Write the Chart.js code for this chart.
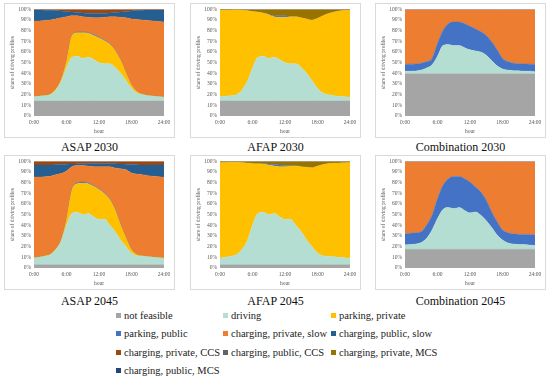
<!DOCTYPE html>
<html>
<head>
<meta charset="utf-8">
<script src="https://cdn.jsdelivr.net/npm/chart.js@4"></script>
<style>
  body { margin: 0; width: 550px; height: 380px; background: #fff; position: relative; overflow: hidden; font-family: "Liberation Serif", "DejaVu Serif", serif; }
  .panel { position: absolute; width: 171px; height: 135px; border: 1px solid #d9d9d9; box-sizing: border-box; }
  .panel canvas { position: absolute; left: -1px; top: -1px; }
  .title { position: absolute; width: 171px; text-align: center; font-size: 12px; line-height: 14px; color: #111; }
  .leg { position: absolute; font-size: 10.5px; line-height: 12px; color: #222; white-space: nowrap; }
  .leg i { display: inline-block; width: 5px; height: 5px; margin-right: 3px; vertical-align: 1px; }
</style>
</head>
<body>
<div class="panel" style="left:4px;top:3px"><canvas id="asap2030" width="171" height="135"></canvas></div>
<div class="panel" style="left:190px;top:3px"><canvas id="afap2030" width="171" height="135"></canvas></div>
<div class="panel" style="left:375px;top:3px"><canvas id="comb2030" width="171" height="135"></canvas></div>
<div class="panel" style="left:4px;top:155px"><canvas id="asap2045" width="171" height="135"></canvas></div>
<div class="panel" style="left:190px;top:155px"><canvas id="afap2045" width="171" height="135"></canvas></div>
<div class="panel" style="left:375px;top:155px"><canvas id="comb2045" width="171" height="135"></canvas></div>

<div class="title" style="left:4px;top:140px">ASAP 2030</div>
<div class="title" style="left:190px;top:140px">AFAP 2030</div>
<div class="title" style="left:375px;top:140px">Combination 2030</div>
<div class="title" style="left:4px;top:294px">ASAP 2045</div>
<div class="title" style="left:190px;top:294px">AFAP 2045</div>
<div class="title" style="left:375px;top:294px">Combination 2045</div>

<div id="legend"></div>

<script>
// hours of the day
const hours = [0,1,2,3,4,5,6,7,8,9,10,11,12,13,14,15,16,17,18,19,20,21,22,23,24];
const xTickLabels = ["0:00", "6:00", "12:00", "18:00", "24:00"];

const stateLabels = ["not feasible", "driving", "parking, private", "parking, public",
  "charging, private, slow", "charging, public, slow", "charging, private, CCS",
  "charging, public, CCS", "charging, private, MCS", "charging, public, MCS"];
const stateColors = ["#A5A5A5", "#B4DED2", "#FFC000", "#4472C4", "#ED7D31",
  "#255E91", "#9E480E", "#636363", "#997300", "#264478"];

// ASAP 2030
const asap2030NotFeasible = [14,14,14,14,14,14,14,14,14,14,14,14,14,14,14,14,14,14,14,14,14,14,14,14,14];
const driving2030 = [4,4.5,5,6,10,18,31,41,42,40,41,39,36,35,35,31.5,26,19,12,7.5,6,5,4.5,4,3.5];
const asap2030ParkPriv = [0.3,0.3,0.3,0.5,1,2,6,20,22,24,22.5,22.5,23,21.5,18,15.5,12,7,3,1.5,0.5,0.3,0.3,0.3,0.3];
const asap2030ParkPub = [0,0,0,0,0,0,0,0.3,0.7,0.8,0.8,0.8,0.7,0.7,0.5,0.3,0.2,0,0,0,0,0,0,0,0];
const asap2030PrivSlow = [70.7,70.2,70.2,69.5,66,58,42,18.7,15.3,14.2,14.2,15.7,18.3,21.3,25.5,31.7,40.3,52,62,67.5,69.5,70.2,70.2,70.2,70.2];
const asap2030PubSlow = [10.3,10.3,9.7,9,7.8,6.5,5,3.5,3,3.5,3.5,4,4,3.5,3.5,4,5,6,7.5,8.5,9.2,9.8,10.3,10.8,11.3];
const asap2030PrivCCS = [0.7,0.7,0.8,1,1.2,1.5,2,2.5,3,3.2,3.5,3.4,3.4,3.4,3.1,2.8,2.3,2,1.5,1,0.8,0.7,0.7,0.7,0.7];
const asap2030PubCCS = [0,0,0,0,0,0,0,0,0,0.3,0.5,0.6,0.6,0.6,0.4,0.2,0.2,0,0,0,0,0,0,0,0];

// AFAP 2030
const afap2030ParkPriv = [81,80.7,80.3,79.5,75.3,66.8,53,42.5,40.5,41,38,39.5,42.5,44,44,46.5,51,57,65.5,72.5,76,78.5,80,81,81.5];
const afap2030ParkPub = [0,0,0,0,0,0,0,0,0,0.3,0.8,1.5,1.5,0.5,0.2,0,0,0,0,0,0,0,0,0,0];
const afap2030PrivMCS = [0.7,0.5,0.4,0.2,0.4,0.9,1.7,2.2,3.2,4.4,5.9,5.7,5.7,6.2,6.5,7.7,8.7,9.7,8.2,5.7,3.7,2.2,1.2,0.7,0.7];
const afap2030PubMCS = [0.3,0.3,0.3,0.3,0.3,0.3,0.3,0.3,0.3,0.3,0.3,0.3,0.3,0.3,0.3,0.3,0.3,0.3,0.3,0.3,0.3,0.3,0.3,0.3,0.3];

// Combination 2030
const comb2030NotFeasible = [39.5,39.5,39.5,39.5,39.5,39.5,39.5,39.5,39.5,39.5,39.5,39.5,39.5,39.5,39.5,39.5,39.5,39.5,39.5,39.5,39.5,39.5,39.5,39.5,39.5];
const comb2030Driving = [2.5,2.5,2.7,3.5,5.5,8.5,16.5,26.5,27.5,26.5,26.5,24.5,22.5,21.5,20.5,17.5,12.5,7.5,4.5,3.5,3,2.8,2.5,2.5,2];
const comb2030ParkPub = [6.6,6.6,6.6,6.5,6,6,12,14,19.5,22,22,22.5,22,20.5,19,18.5,17.5,15,10,8,7,6.7,6.8,6.6,7];
const comb2030PrivSlow = [50.9,50.9,50.7,50,48.5,45.5,31.5,19.5,13,11.5,11.5,13,15.5,18,20.5,24,30,37.5,45.5,48.5,50,50.5,50.7,50.9,51];
const comb2030PubSlow = [0.5,0.5,0.5,0.5,0.5,0.5,0.5,0.5,0.5,0.5,0.5,0.5,0.5,0.5,0.5,0.5,0.5,0.5,0.5,0.5,0.5,0.5,0.5,0.5,0.5];

// ASAP 2045
const notFeasible2045 = [3,3,3,3,3,3,3,3,3,3,3,3,3,3,3,3,3,3,3,3,3,3,3,3,3];
const driving2045 = [6.3,7,8,9.5,14,22,37,48,49.3,47,48,45,42.5,43,37,31,23.3,17,11,8.5,8,7.5,7,6.5,6];
const asap2045ParkPriv = [0.3,0.3,0.3,0.3,0.5,1,5,21.8,26.7,29.6,28,28.5,27.9,23.7,24,20,13.7,7.9,3,1,0.5,0.3,0.3,0.3,0.3];
const asap2045ParkPub = [0,0,0,0,0,0,0,0.5,1,1,1,0.8,0.7,0.6,0.5,0.3,0,0,0,0,0,0,0,0,0];
const asap2045PrivSlow = [75.5,75,74.2,73.2,70,62.5,46,21.7,16,15.4,15.5,17.7,20.9,24.7,30.5,39.5,53,64.1,72,75.5,76,75.7,75.7,75.7,75.7];
const asap2045PubSlow = [11.4,11.2,11,10.5,9.3,8.5,6.3,2.5,1.8,2,2.5,3,3,3,3,4,4.5,5.3,8,8.8,9,10,10.5,11,11.5];
const asap2045PrivCCS = [3.2,3.2,3.2,3.2,2.9,2.7,2.4,2.2,1.9,1.7,1.7,1.7,1.7,1.7,1.7,1.9,2.2,2.4,2.7,2.9,3.2,3.2,3.2,3.2,3.2];
const asap2045PubCCS = [0.3,0.3,0.3,0.3,0.3,0.3,0.3,0.3,0.3,0.3,0.3,0.3,0.3,0.3,0.3,0.3,0.3,0.3,0.3,0.3,0.3,0.3,0.3,0.3,0.3];

// AFAP 2045
const afap2045ParkPriv = [89.5,88.9,88,86.5,81.8,73.5,58,46.7,45.2,46.5,44.5,47,49.5,49.3,55.5,61,68.2,74,81.5,85.5,87,87.8,88.5,89.2,89.8];
const afap2045ParkPub = [0,0,0,0,0,0,0,0,0.3,1,1.5,1.5,1,0.5,0.3,0,0,0,0,0,0,0,0,0,0];
const afap2045PrivMCS = [0.9,0.8,0.7,0.7,0.9,1.2,1.7,2,1.9,2.2,2.7,3.2,3.7,3.9,3.9,4.7,5.2,5.7,4.2,2.7,1.7,1.4,1.2,1,0.9];
const afap2045PubMCS = [0.3,0.3,0.3,0.3,0.3,0.3,0.3,0.3,0.3,0.3,0.3,0.3,0.3,0.3,0.3,0.3,0.3,0.3,0.3,0.3,0.3,0.3,0.3,0.3,0.3];

// Combination 2045
const comb2045NotFeasible = [17.5,17.5,17.5,17.5,17.5,17.5,17.5,17.5,17.5,17.5,17.5,17.5,17.5,17.5,17.5,17.5,17.5,17.5,17.5,17.5,17.5,17.5,17.5,17.5,17.5];
const comb2045Driving = [4.2,4.5,5,6.3,10.4,18.1,28.9,37.3,39.2,38.2,39.2,36.5,34.2,35.1,32,26.8,20.5,13.5,8.8,6,5,4.5,4.5,4,3.5];
const comb2045ParkPub = [10.3,10.5,10.5,10.2,12.3,13.9,18.6,22.6,26.9,30.1,29.1,29.6,28.8,23.3,21.7,19.2,14.6,12.3,9.3,9.5,9.5,9.5,9.5,10,10];
const comb2045PrivSlow = [67.5,67,66.5,65.5,59.3,50,34.5,22.1,15.9,13.7,13.7,15.9,19,23.6,28.3,36,46.9,56.2,63.9,66.5,67.5,68,68,68,68.5];
const comb2045PubSlow = [0.5,0.5,0.5,0.5,0.5,0.5,0.5,0.5,0.5,0.5,0.5,0.5,0.5,0.5,0.5,0.5,0.5,0.5,0.5,0.5,0.5,0.5,0.5,0.5,0.5];

// panel -> list of [state index, values], bottom to top
const panels = {
  asap2030: [[0, asap2030NotFeasible], [1, driving2030], [2, asap2030ParkPriv], [3, asap2030ParkPub],
             [4, asap2030PrivSlow], [5, asap2030PubSlow], [6, asap2030PrivCCS], [7, asap2030PubCCS]],
  afap2030: [[0, asap2030NotFeasible], [1, driving2030], [2, afap2030ParkPriv], [3, afap2030ParkPub],
             [8, afap2030PrivMCS], [9, afap2030PubMCS]],
  comb2030: [[0, comb2030NotFeasible], [1, comb2030Driving], [3, comb2030ParkPub],
             [4, comb2030PrivSlow], [5, comb2030PubSlow]],
  asap2045: [[0, notFeasible2045], [1, driving2045], [2, asap2045ParkPriv], [3, asap2045ParkPub],
             [4, asap2045PrivSlow], [5, asap2045PubSlow], [6, asap2045PrivCCS], [7, asap2045PubCCS]],
  afap2045: [[0, notFeasible2045], [1, driving2045], [2, afap2045ParkPriv], [3, afap2045ParkPub],
             [8, afap2045PrivMCS], [9, afap2045PubMCS]],
  comb2045: [[0, comb2045NotFeasible], [1, comb2045Driving], [3, comb2045ParkPub],
             [4, comb2045PrivSlow], [5, comb2045PubSlow]]
};

Chart.defaults.font.family = "'Liberation Serif', 'DejaVu Serif', serif";
Chart.defaults.color = "#595959";

Object.keys(panels).forEach(function (id) {
  const datasets = panels[id].map(function (s, i) {
    return {
      label: stateLabels[s[0]],
      data: s[1],
      backgroundColor: stateColors[s[0]],
      borderColor: stateColors[s[0]],
      borderWidth: 0.4,
      pointRadius: 0,
      cubicInterpolationMode: "monotone",
      fill: i === 0 ? "origin" : "-1"
    };
  });
  new Chart(document.getElementById(id), {
    type: "line",
    data: { labels: hours, datasets: datasets },
    options: {
      responsive: false,
      animation: false,
      layout: { padding: { top: 6, right: 11, left: 0, bottom: 3 } },
      plugins: { legend: { display: false }, tooltip: { enabled: false } },
      scales: {
        x: {
          type: "linear", min: 0, max: 24,
          grid: { display: false, drawTicks: false }, border: { display: false },
          ticks: { stepSize: 6, maxRotation: 0, autoSkip: false, padding: 3, font: { size: 5.5 },
                   callback: function (v) { return xTickLabels[v / 6]; } },
          title: { display: true, text: "hour", font: { size: 5.5 }, padding: { top: 2, bottom: 0 } },
          afterFit: function (s) { s.height = 19; }
        },
        y: {
          stacked: true, min: 0, max: 100,
          grid: { display: false, drawTicks: false }, border: { display: false },
          ticks: { stepSize: 10, padding: 3, font: { size: 5.5 },
                   callback: function (v) { return v + "%"; } },
          title: { display: true, text: "share of driving profiles", font: { size: 5.5 }, padding: { top: 5, bottom: 2 } },
          afterFit: function (s) { s.width = 30; }
        }
      }
    }
  });
});

// legend
const legendCols = [116, 223, 331];
const legendRows = [316, 334, 353, 371];
const legend = document.getElementById("legend");
stateLabels.forEach(function (lab, i) {
  const d = document.createElement("div");
  d.className = "leg";
  d.style.left = legendCols[i % 3] + "px";
  d.style.top = (legendRows[Math.floor(i / 3)] - 6) + "px";
  d.innerHTML = '<i style="background:' + stateColors[i] + '"></i>' + lab;
  legend.appendChild(d);
});
</script>
</body>
</html>
